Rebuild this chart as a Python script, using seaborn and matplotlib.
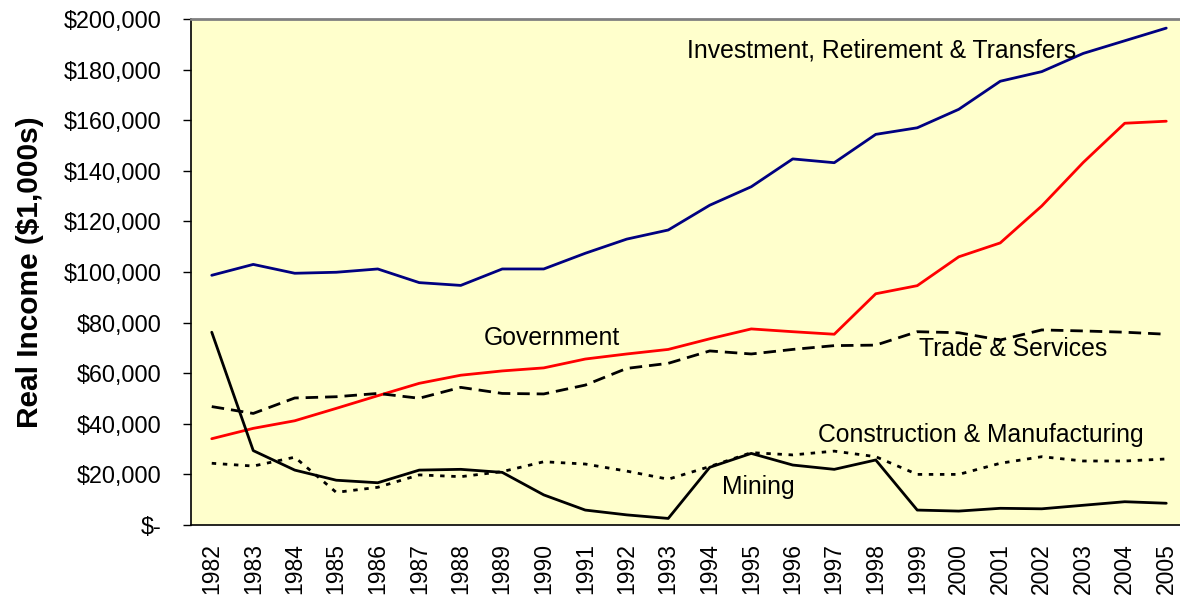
"""
Real income by source, 1982-2005 (line chart, Excel-style look).
"""
import numpy as np
import pandas as pd
import matplotlib
matplotlib.use("Agg")
import matplotlib.pyplot as plt
import seaborn as sns
from matplotlib.ticker import FixedLocator, FuncFormatter

# ---- data (thousands of dollars) ----
years = list(range(1982, 2006))

investment = [98.7, 103.0, 99.5, 99.9, 101.2, 95.8, 94.7, 101.2, 101.2, 107.4,
              113.0, 116.6, 126.4, 133.7, 144.7, 143.2, 154.4, 157.0, 164.3, 175.4,
              179.2, 186.4, 191.4, 196.4]
government = [34.1, 38.2, 41.2, 46.1, 51.1, 56.0, 59.2, 60.9, 62.1, 65.6,
              67.6, 69.4, 73.6, 77.5, 76.4, 75.4, 91.4, 94.6, 106.0, 111.5,
              126.1, 143.3, 158.8, 159.6]
trade = [46.8, 44.1, 50.2, 50.7, 52.0, 50.1, 54.4, 52.0, 51.8, 55.3,
         61.9, 63.9, 68.8, 67.6, 69.4, 70.9, 71.1, 76.4, 76.0, 73.1,
         77.1, 76.7, 76.2, 75.4]
construction = [24.4, 23.3, 26.8, 12.9, 14.9, 19.8, 19.1, 21.1, 25.0, 24.1,
                21.3, 18.1, 23.1, 28.6, 27.7, 29.2, 27.0, 20.0, 20.0, 24.4,
                27.0, 25.3, 25.3, 26.1]
mining = [76.2, 29.4, 21.7, 17.7, 16.7, 21.7, 22.0, 20.8, 11.9, 5.9,
          4.0, 2.6, 22.8, 28.3, 23.7, 22.0, 25.7, 5.9, 5.5, 6.6,
          6.4, 7.8, 9.2, 8.6]

series_names = ["Investment", "Government", "Trade", "Construction", "Mining"]
series_values = [investment, government, trade, construction, mining]

# label text, anchor (category index, value in $1,000s)
labels = {
    "Investment": ("Investment, Retirement & Transfers", 11.45, 187.5),
    "Government": ("Government", 6.55, 74.0),
    "Trade": ("Trade & Services", 17.05, 69.6),
    "Construction": ("Construction & Manufacturing", 14.6, 35.6),
    "Mining": ("Mining", 12.3, 15.0),
}

palette = {"Investment": "#000080", "Government": "#FF0000", "Trade": "black",
           "Construction": "black", "Mining": "black"}
dashes = {"Investment": "", "Government": "", "Trade": (4.5, 2.5),
          "Construction": (1.6, 2.4), "Mining": ""}

# long-form table for seaborn
frames = []
for name, vals in zip(series_names, series_values):
    frames.append(pd.DataFrame({
        "pos": np.arange(len(years)),
        "income": np.array(vals) * 1000,
        "series": name,
    }))
df = pd.concat(frames, ignore_index=True)

sns.set_style("white")
plt.rcParams["font.family"] = ["Liberation Sans", "DejaVu Sans"]

fig = plt.figure(figsize=(11.8, 6.01), dpi=100)
ax = fig.add_axes([191 / 1180, 76 / 601, 996 / 1180, 506 / 601])
ax.set_facecolor("#FFFFCC")

sns.lineplot(data=df, x="pos", y="income", hue="series", style="series",
             palette=palette, dashes=dashes, linewidth=2.0, legend=False,
             ax=ax)

for name, (txt, xpos, ypos) in labels.items():
    ax.text(xpos, ypos * 1000, txt, ha="left", va="center",
            fontsize=17.8, color="black")

ax.set_xlim(-0.5, len(years) - 0.5)
ax.set_ylim(0, 200000)

# category labels at centres, tick marks on the boundaries
ax.xaxis.set_major_locator(FixedLocator(np.arange(len(years))))
ax.set_xticklabels([str(y) for y in years], rotation=90, fontsize=16.5)
ax.xaxis.set_minor_locator(FixedLocator(np.arange(len(years) + 1) - 0.5))
ax.tick_params(axis="x", which="major", length=0, pad=13, labelcolor="black")
ax.tick_params(axis="x", which="minor", length=7, width=1, color="black",
               direction="out")

ax.set_yticks(np.arange(0, 200001, 20000))
ax.yaxis.set_major_formatter(
    FuncFormatter(lambda v, p: "$-" if v == 0 else f"${v:,.0f}"))
ax.tick_params(axis="y", length=6, width=1, color="black", direction="out",
               pad=15, labelsize=16.8, left=True, labelcolor="black")

ax.set_xlabel("")
ax.set_ylabel("Real Income ($1,000s)", fontsize=21.5, fontweight="bold",
              labelpad=14, color="black")

for side in ["left", "bottom"]:
    ax.spines[side].set_color("black")
    ax.spines[side].set_linewidth(1.2)
ax.spines["top"].set_color("#808080")
ax.spines["top"].set_linewidth(2)
ax.spines["right"].set_visible(False)

fig.savefig("out.png", dpi=100)
